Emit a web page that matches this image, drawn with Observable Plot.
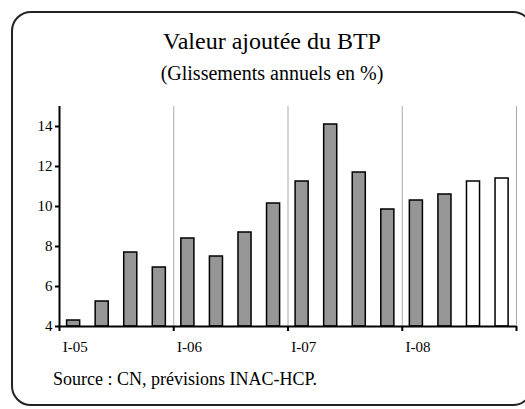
<!DOCTYPE html>
<html>
<head>
<meta charset="utf-8">
<script src="https://cdn.jsdelivr.net/npm/d3@7"></script>
<script src="https://cdn.jsdelivr.net/npm/@observablehq/plot@0.6"></script>
<style>
  html, body { margin: 0; padding: 0; background: #fff; font-family: 'Liberation Serif', Tinos, 'Times New Roman', serif; }
  #wrap { position: relative; width: 525px; height: 409px; overflow: hidden; background: #fff; color: #000; }
  #frame { position: absolute; left: 11px; top: 11px; width: 518px; height: 391px;
           border: 2px solid #222; border-radius: 20px; }
  .t { position: absolute; left: 11px; width: 522px; text-align: center; white-space: nowrap; }
  #title { top: 29px; font-size: 24px; line-height: 24px; }
  #subtitle { top: 63px; font-size: 20px; line-height: 20px; }
  #source { position: absolute; left: 53px; top: 370px; font-size: 18px; line-height: 18px; white-space: nowrap; }
  #chart { position: absolute; left: 0; top: 90px; }
</style>
</head>
<body>
<div id="wrap">
  <div id="frame"></div>
  <div id="title" class="t" style="font-family: 'Liberation Serif', serif">Valeur ajoutée du BTP</div>
  <div id="subtitle" class="t" style="font-family: 'Liberation Serif', serif">(Glissements annuels en %)</div>
  <div id="chart"></div>
  <div id="source" style="font-family: 'Liberation Serif', serif">Source : CN, prévisions INAC-HCP.</div>
</div>
<script>
const quarters = ["I-05","II-05","III-05","IV-05","I-06","II-06","III-06","IV-06",
                  "I-07","II-07","III-07","IV-07","I-08","II-08","III-08","IV-08"];
const values = [4.3, 5.25, 7.7, 6.95, 8.4, 7.5, 8.7, 10.15,
                11.25, 14.1, 11.7, 9.85, 10.3, 10.6, 11.25, 11.4];
const status = ["obs","obs","obs","obs","obs","obs","obs","obs",
                "obs","obs","obs","obs","obs","obs","prev","prev"];
const yTicks = [4, 6, 8, 10, 12, 14];
const yDomain = [4, 15];

const data = quarters.map((q, i) => ({q, i, v: values[i], s: status[i]}));
const yearStarts = data.filter(d => d.q.startsWith("I-"));
const bounds = yearStarts.map(d => d.i).concat([quarters.length]);
const gridBounds = bounds.slice(1);
const serif = "'Liberation Serif', Tinos, 'Times New Roman', serif";

const chart = Plot.plot({
  width: 525,
  height: 280,
  marginTop: 16,
  marginBottom: 44,
  marginLeft: 59,
  marginRight: 9,
  style: {fontFamily: serif, fontSize: "15px", background: "transparent", color: "#000", overflow: "visible"},
  x: {domain: [0, quarters.length], axis: null},
  y: {domain: yDomain, axis: null},
  marks: [
    Plot.ruleX(gridBounds, {y1: yDomain[0], y2: yDomain[1], stroke: "#a8a8a8", strokeWidth: 1}),
    Plot.rectY(data, {
      x1: d => d.i, x2: d => d.i + 1, y1: yDomain[0], y2: "v",
      insetLeft: 7.6, insetRight: 7.9,
      fill: d => d.s === "obs" ? "#969696" : "#ffffff",
      stroke: "#000", strokeWidth: 1.5
    }),
    Plot.ruleY([yDomain[0]], {stroke: "#000", strokeWidth: 2}),
    Plot.ruleX([0], {y1: yDomain[0], y2: yDomain[1], stroke: "#000", strokeWidth: 2}),
    Plot.axisY({ticks: yTicks, tickSize: 4, tickPadding: 3, strokeWidth: 2, fontSize: 15, label: null, fontFamily: serif, tickFormat: d => String(d)}),
    Plot.axisX({ticks: bounds, tickSize: 5, tickFormat: () => "", label: null, strokeWidth: 2}),
    Plot.text(yearStarts, {x: d => d.i + 0.5, y: yDomain[0], text: "q", dy: 21, dx: 1.5, fontSize: 15, fontFamily: serif, textAnchor: "middle"})
  ]
});
document.getElementById("chart").appendChild(chart);
</script>
</body>
</html>
